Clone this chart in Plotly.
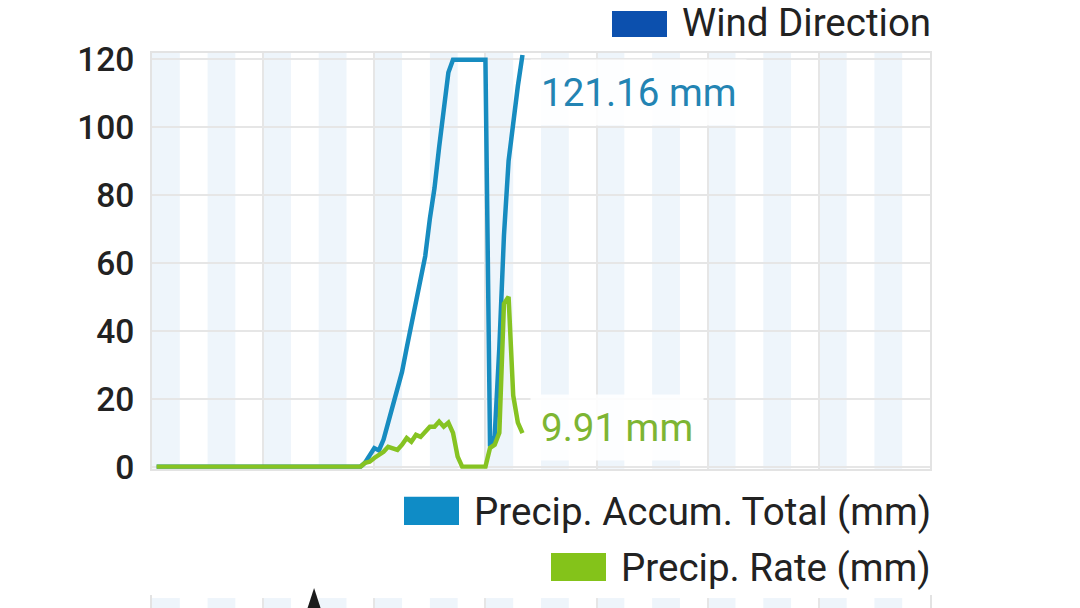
import plotly.graph_objects as go

# ---------------- data (hourly samples) ----------------
hours = list(range(1, 81))

precip_accum_total = [
    0, 0, 0, 0, 0, 0, 0, 0, 0, 0,
    0, 0, 0, 0, 0, 0, 0, 0, 0, 0,
    0, 0, 0, 0, 0, 0, 0, 0, 0, 0,
    0, 0, 0, 0, 0, 0, 0, 0, 0, 0,
    0, 0, 0, 0, 0,
    1.2, 3.5, 5.5, 4.8, 8.0, 13.0, 17.7, 23.0, 28.0, 35.0,
    42.0, 49.0, 55.0, 62.0, 73.0, 82.0, 94.0, 105.0, 116.0, 119.8,
    119.8, 119.8, 119.8, 119.8, 119.8, 119.8, 119.8,
    6.0, 9.0, 35.0, 68.0, 90.0, 102.0, 112.0, 121.16,
]

precip_rate = [
    0, 0, 0, 0, 0, 0, 0, 0, 0, 0,
    0, 0, 0, 0, 0, 0, 0, 0, 0, 0,
    0, 0, 0, 0, 0, 0, 0, 0, 0, 0,
    0, 0, 0, 0, 0, 0, 0, 0, 0, 0,
    0, 0, 0, 0, 0,
    1.2, 1.5, 2.6, 3.5, 4.4, 5.9, 5.4, 5.0, 6.5, 8.5,
    7.4, 9.4, 8.8, 10.5, 11.8, 11.8, 13.3, 11.8, 13.0, 10.0,
    3.0, 0, 0, 0, 0, 0, 0,
    5.6, 6.5, 10.0, 48.0, 50.0, 21.0, 13.0, 9.91,
]

wind_hours = [35]
wind_angle = [0]

y_ticks = [0, 20, 40, 60, 80, 100, 120]
label_total = "121.16 mm"
label_rate = "9.91 mm"

# ---------------- layout geometry ----------------
# target positions are given in screenshot px (1080 x 608); the capture maps
# figure px to screenshot px as  shot = 3.2 + 0.966 * fig  vertically.
W, H = 1080, 608

def fy(t):
    return (t - 3.2) / 0.966

FH = round(fy(H))
ML, MR = 152, 150
MT, MB = fy(54), 0
PW, PH = W - ML - MR, FH - MT - MB

def px(p):
    return (p - ML) / PW

def py(p):
    return (FH - MB - fy(p)) / PH

BLUE = "#178cc0"
GREEN = "#86c322"
GRID = "#e6e6e6"
STRIPE = "#eef5fb"
TXT = "#222222"
FONT = "Roboto"
FS = 38.5

fig = go.Figure()

fig.add_trace(go.Scatter(
    x=hours, y=precip_accum_total, mode="lines",
    line=dict(color=BLUE, width=4.5), xaxis="x", yaxis="y",
    showlegend=False, hoverinfo="skip"))
fig.add_trace(go.Scatter(
    x=hours, y=precip_rate, mode="lines",
    line=dict(color=GREEN, width=4.5), xaxis="x", yaxis="y",
    showlegend=False, hoverinfo="skip"))

# wind direction arrow of the (cut-off) chart below; own invisible subplot above it
fig.add_trace(go.Scatter(
    x=wind_hours, y=[0.5] * len(wind_hours), mode="markers",
    marker=dict(symbol="arrow", size=30, color="#1c1c1c", angle=wind_angle,
                line=dict(width=0)),
    xaxis="x3", yaxis="y3", cliponaxis=False, showlegend=False,
    hoverinfo="skip"))

shapes = []
for start in range(0, 168, 12):
    for xr, yr in (("x", "y domain"), ("x2", "y2 domain")):
        shapes.append(dict(type="rect", xref=xr, yref=yr, x0=start, x1=start + 6,
                           y0=0, y1=1, fillcolor=STRIPE, line=dict(width=0),
                           layer="below"))

# legend swatches
legend_items = [
    ("Wind Direction", "#0c50ae", 612, 667, 12, 38, 24),
    ("Precip. Accum. Total (mm)", "#0f8cc6", 404, 459, 497, 525, 512),
    ("Precip. Rate (mm)", "#84c31a", 551, 606, 553, 581, 567),
]
annotations = []
for text, col, x0, x1, y0, y1, yc in legend_items:
    shapes.append(dict(type="rect", xref="paper", yref="paper",
                       x0=px(x0), x1=px(x1), y0=py(y1), y1=py(y0),
                       fillcolor=col, line=dict(width=0)))
    annotations.append(dict(xref="paper", yref="paper", x=px(x1 + 13), y=py(yc),
                            xanchor="left", yanchor="middle", showarrow=False,
                            text=text, font=dict(family=FONT, size=FS, color=TXT)))

# value labels
hx = lambda p: (p - ML) / (PW / 168)
annotations.append(dict(xref="x", yref="y", x=hx(530), y=110.0,
                        xanchor="left", yanchor="middle", showarrow=False,
                        text=label_total, bgcolor="rgba(255,255,255,0.88)",
                        borderpad=10,
                        font=dict(family=FONT, size=FS, color="#2384b3")))
annotations.append(dict(xref="x", yref="y", x=hx(530), y=11.5,
                        xanchor="left", yanchor="middle", showarrow=False,
                        text=label_rate, bgcolor="rgba(255,255,255,0.88)",
                        borderpad=10,
                        font=dict(family=FONT, size=FS, color="#7db533")))

axis_common = dict(range=[0, 168], tick0=0, dtick=24, showgrid=True,
                   gridcolor=GRID, gridwidth=2, showticklabels=False,
                   showline=True, mirror=True, linecolor="#e3e3e3", linewidth=2,
                   zeroline=False, ticks="")

fig.update_layout(
    width=W, height=FH,
    margin=dict(l=ML, r=MR, t=MT, b=MB, pad=0),
    paper_bgcolor="white", plot_bgcolor="white",
    font=dict(family=FONT, color=TXT),
    showlegend=False,
    xaxis=dict(anchor="y", domain=[0, 1], **axis_common),
    xaxis2=dict(anchor="y2", domain=[0, 1], matches="x", **axis_common),
    xaxis3=dict(anchor="y3", domain=[0, 1], matches="x", visible=False,
                showgrid=False, zeroline=False),
    yaxis=dict(domain=[py(469), 1], range=[-0.59, 121.76], tickvals=y_ticks,
               showgrid=True, gridcolor=GRID, gridwidth=2, zeroline=False,
               showline=True, mirror=True, linecolor="#e3e3e3", linewidth=2,
               ticks="", ticklabelstandoff=9,
               tickfont=dict(family=FONT, size=33.5, color=TXT, weight=500)),
    yaxis2=dict(domain=[0, py(597)], range=[0, 1], showgrid=False,
                zeroline=False, showticklabels=False, showline=True, mirror=True,
                linecolor="#e3e3e3", linewidth=2, ticks=""),
    yaxis3=dict(domain=[py(598), py(578)], range=[0, 1], visible=False,
                anchor="x3", showgrid=False, zeroline=False),
    shapes=shapes,
    annotations=annotations,
)

fig.write_html(
    "out.html",
    config={"displayModeBar": False, "staticPlot": True},
    post_script="document.body.style.margin='0';"
                "document.documentElement.style.overflow='hidden';",
)
